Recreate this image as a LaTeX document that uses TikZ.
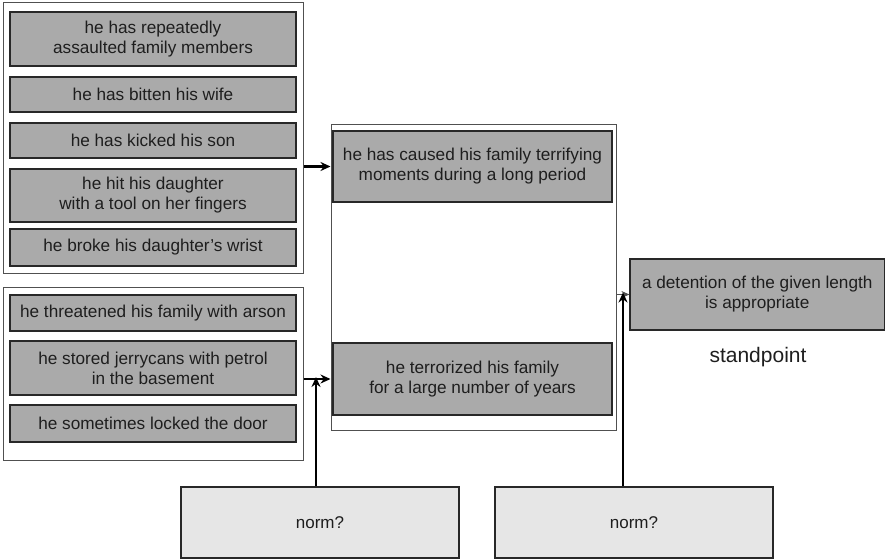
\documentclass[tikz,border=0pt]{standalone}
\usepackage{fontspec}
\setmainfont{Liberation Sans}
\usetikzlibrary{arrows.meta}
\definecolor{boxfill}{RGB}{170,170,170}
\definecolor{normfill}{RGB}{230,230,230}
\definecolor{edge}{RGB}{40,40,40}
\definecolor{frame}{RGB}{80,80,80}
\definecolor{ink}{RGB}{30,30,30}
\tikzset{
  claim/.style={draw=edge, line width=1.2pt, fill=boxfill, inner sep=0pt,
    align=center, text=ink, font=\fontsize{17.2}{20}\selectfont},
  normbox/.style={draw=edge, line width=1.2pt, fill=normfill, inner sep=0pt,
    align=center, text=ink, font=\fontsize{17}{20}\selectfont},
  group/.style={draw=frame, line width=1pt, inner sep=0pt},
  arr/.style={-{Stealth[length=10pt,width=9pt]}, line width=2.6pt, black},
  thinarr/.style={-{Stealth[length=8pt,width=7pt]}, line width=1pt, frame},
}
\begin{document}
\begin{tikzpicture}[x=1pt,y=-1pt]
\useasboundingbox (0,0) rectangle (885,559);

% first group of reasons
\node[group, minimum width=300, minimum height=270] (g1) at (153,138) {};
\node[claim, minimum width=286, minimum height=54] (a1) at (153,39)
  {he has repeatedly\\assaulted family members};
\node[claim, minimum width=286, minimum height=35] (a2) at (153,94.5)
  {he has bitten his wife};
\node[claim, minimum width=286, minimum height=35] (a3) at (153,140.5)
  {he has kicked his son};
\node[claim, minimum width=286, minimum height=53] (a4) at (153,195.5)
  {he hit his daughter\\with a tool on her fingers};
\node[claim, minimum width=286, minimum height=37] (a5) at (153,247.5)
  {he broke his daughter's wrist};

% second group of reasons
\node[group, minimum width=300, minimum height=173] (g2) at (153,373.5) {};
\node[claim, minimum width=286, minimum height=36] (b1) at (153,313)
  {he threatened his family with arson};
\node[claim, minimum width=286, minimum height=54] (b2) at (153,368)
  {he stored jerrycans with petrol\\in the basement};
\node[claim, minimum width=286, minimum height=37] (b3) at (153,423.5)
  {he sometimes locked the door};

% intermediate conclusions
\node[group, minimum width=285, minimum height=306] (mid) at (473.5,277) {};
\node[claim, minimum width=279, minimum height=71] (c1) at (472.5,166.5)
  {he has caused his family terrifying\\moments during a long period};
\node[claim, minimum width=279, minimum height=72] (c2) at (472.5,379)
  {he terrorized his family\\for a large number of years};

% standpoint
\node[claim, minimum width=254.5, minimum height=71] (sp) at (757.25,294.5)
  {a detention of the given length\\is appropriate};
\node[text=ink, font=\fontsize{21}{24}\selectfont, anchor=center] (splabel)
  at (758,357) {standpoint};

% norms
\node[normbox, minimum width=278, minimum height=71] (n1) at (320,522.5) {norm?};
\node[normbox, minimum width=278, minimum height=71] (n2) at (634,522.5) {norm?};

% connectors
\draw[arr] (g1.east |- c1.center) -- (mid.west |- c1.center);
\draw[arr] (g2.east |- c2.center) -- (mid.west |- c2.center);
\draw[thinarr] (mid.east |- sp.west) -- (sp.west);
\path (n1.north) ++(-4,0) coordinate (n1top);
\path (n2.north) ++(-11,0) coordinate (n2top);
\draw[arr] (n1top) -- ([yshift=2pt]n1top |- c2.center);
\draw[arr] (n2top) -- ([yshift=2pt]n2top |- sp.west);
\end{tikzpicture}
\end{document}
